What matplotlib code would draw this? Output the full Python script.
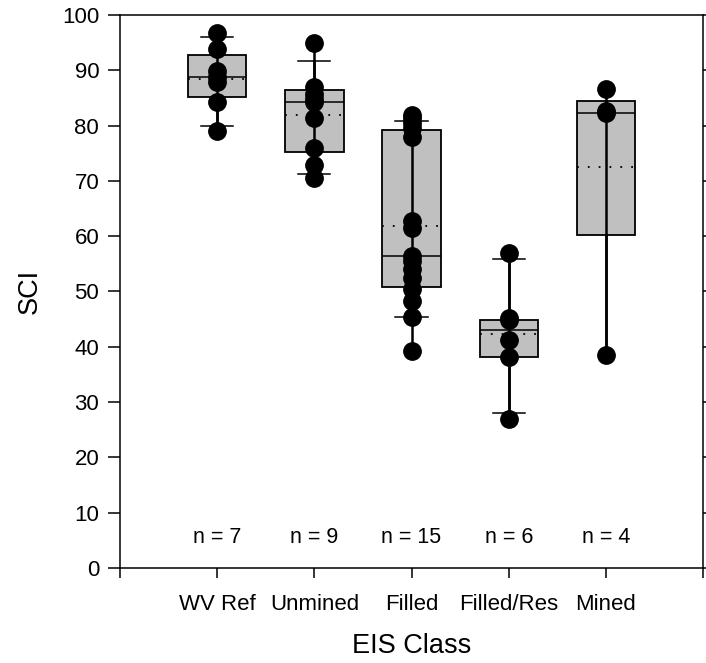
import numpy as np
import matplotlib.pyplot as plt

plt.rcParams['font.family'] = ['Liberation Sans', 'DejaVu Sans']

## categories and sample sizes
categories = ['WV Ref', 'Unmined', 'Filled', 'Filled/Res', 'Mined']
n_labels = ['n = 7', 'n = 9', 'n = 15', 'n = 6', 'n = 4']

## SCI values for each class
wv_ref = [96.7, 93.9, 89.8, 88.7, 87.8, 84.3, 79.0]
unmined = [94.9, 87.0, 85.8, 84.8, 84.3, 81.3, 76.0, 72.8, 70.5]
filled = [82.0, 81.3, 80.5, 79.5, 78.0, 62.8, 61.5, 56.5,
          55.5, 54.0, 52.5, 50.5, 48.2, 45.3, 39.2]
filled_res = [57.0, 45.2, 44.8, 41.3, 38.2, 26.9]
mined = [86.6, 82.6, 82.2, 38.5]
groups = [wv_ref, unmined, filled, filled_res, mined]

## box statistics as drawn (25th/50th/75th pct, 10th/90th whiskers, mean)
q1 = [85.1, 75.2, 50.9, 38.1, 60.3]
med = [88.7, 84.3, 56.5, 43.0, 82.3]
q3 = [92.8, 86.4, 79.2, 44.8, 84.5]
whislo = [79.9, 71.2, 45.3, 28.0, 38.5]
whishi = [96.1, 91.7, 80.9, 55.9, 84.5]
means = [88.4, 82.0, 61.9, 42.3, 72.5]
capw = [0.33, 0.33, 0.33, 0.33, 0.0]

fig = plt.figure(figsize=(7.06, 6.63), dpi=100)
ax = fig.add_axes([0.170, 0.1433, 0.8258, 0.8341])

pos = np.arange(1, len(categories) + 1)

stats = []
for i, name in enumerate(categories):
    stats.append(dict(label=name, q1=q1[i], med=med[i], q3=q3[i],
                      whislo=whislo[i], whishi=whishi[i], mean=means[i],
                      fliers=[]))

ax.bxp(stats, positions=pos, widths=0.6, patch_artist=True,
       showmeans=True, meanline=True, capwidths=capw,
       boxprops=dict(facecolor='#c0c0c0', edgecolor='black', linewidth=1.3),
       medianprops=dict(color='black', linewidth=1.1),
       meanprops=dict(color='black', linewidth=1.3, linestyle=(0, (1, 5))),
       whiskerprops=dict(color='black', linewidth=1.8),
       capprops=dict(color='black', linewidth=1.1),
       zorder=2)

## line through the data range and the data points
for p, vals in zip(pos, groups):
    ax.vlines(p, min(vals), max(vals), color='black', linewidth=1.8, zorder=3)
    ax.plot([p] * len(vals), vals, 'o', color='black', markersize=12.5,
            zorder=4, clip_on=False)

for p, lab in zip(pos, n_labels):
    ax.text(p, 5.6, lab, ha='center', va='center', fontsize=15.5)

ax.set_xlim(0, 6)
ax.set_ylim(0, 100)
ax.set_xticks(range(7))
ax.set_xticklabels([''] + categories + [''], fontsize=16)
ax.set_yticks(range(0, 101, 10))
ax.tick_params(axis='y', labelsize=16, length=9, width=1.1, direction='out',
               right=True, pad=6)
ax.tick_params(axis='x', length=7, width=1.1, direction='out', pad=12)
for s in ax.spines.values():
    s.set_linewidth(1.1)

ax.set_xlabel('EIS Class', fontsize=19.5, labelpad=13)
ax.set_ylabel('SCI', fontsize=19.5, labelpad=14)

fig.savefig('out.png', dpi=100)
